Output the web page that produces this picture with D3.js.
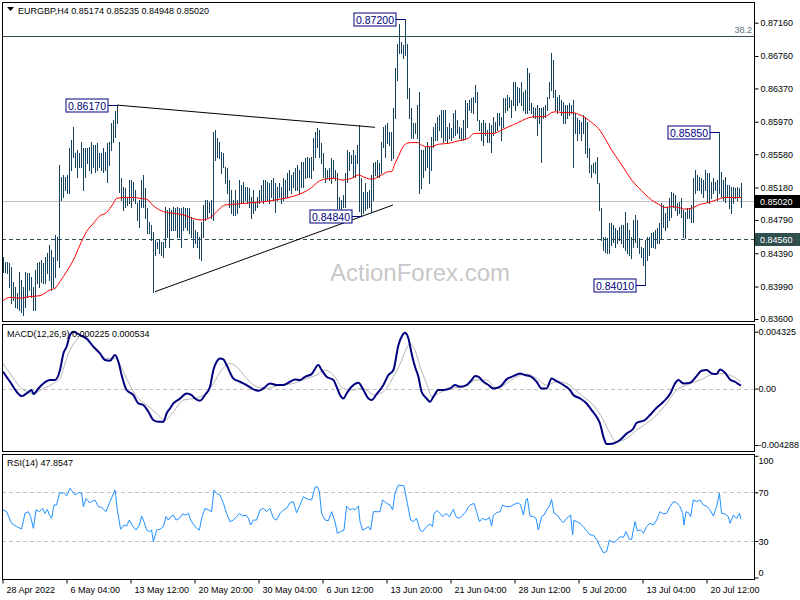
<!DOCTYPE html>
<html><head><meta charset="utf-8">
<script src="https://cdn.jsdelivr.net/npm/d3@7"></script>
<style>body{margin:0;background:#fff}svg{display:block}text{font-family:"Liberation Sans",Arial,sans-serif}</style>
</head><body><svg id="c" width="800" height="600"></svg>
<script>
// ---------- DATA ----------
const symbolTitle = "EURGBP,H4";
const titleOHLC = [0.85174, 0.85235, 0.84948, 0.85020];
const highs = [
.8435,.8429,.8429,.8427,.8423,.8405,.8399,.8391,.8417,.8407,
.8399,.8417,.8415,.8415,.8411,.8399,.8419,.8427,.8429,.8431,
.8427,.8435,.8439,.8449,.8443,.8435,.8461,.8459,.8545,.8531,
.8533,.8531,.8533,.8565,.8575,.8591,.8559,.8563,.8559,.8573,
.8565,.8565,.8565,.8567,.8573,.8569,.8569,.8571,.8559,.8559,
.8565,.8561,.8571,.8573,.8595,.8599,.8610,.8617,.8573,.8529,
.8519,.8517,.8507,.8527,.8527,.8525,.8515,.8499,.8503,.8527,
.8533,.8517,.8493,.8477,.8473,.8465,.8455,.8453,.8455,.8453,
.8453,.8495,.8491,.8493,.8491,.8495,.8493,.8495,.8493,.8493,
.8495,.8493,.8493,.8493,.8483,.8479,.8467,.8465,.8459,.8477,
.8497,.8503,.8503,.8501,.8503,.8585,.8587,.8577,.8573,.8561,
.8559,.8543,.8541,.8527,.8515,.8503,.8515,.8503,.8527,.8521,
.8525,.8519,.8519,.8517,.8507,.8515,.8501,.8507,.8515,.8521,
.8527,.8527,.8525,.8523,.8527,.8529,.8523,.8519,.8523,.8519,
.8529,.8527,.8535,.8539,.8533,.8537,.8541,.8545,.8539,.8549,
.8549,.8553,.8555,.8553,.8555,.8577,.8585,.8589,.8587,.8571,
.8559,.8541,.8539,.8541,.8553,.8551,.8539,.8535,.8507,.8503,
.8509,.8535,.8563,.8561,.8557,.8563,.8557,.8569,.8593,.8529,
.8513,.8523,.8513,.8515,.8533,.8547,.8549,.8551,.8547,.8573,
.8591,.8593,.8595,.8585,.8585,.8613,.8661,.8691,.8715,.8693,
.8689,.8720,.8691,.8637,.8613,.8595,.8595,.8617,.8633,.8563,
.8563,.8567,.8573,.8567,.8579,.8591,.8595,.8603,.8605,.8611,
.8611,.8611,.8591,.8595,.8589,.8607,.8611,.8599,.8591,.8589,
.8599,.8623,.8619,.8623,.8625,.8627,.8641,.8633,.8599,.8595,
.8599,.8595,.8587,.8595,.8593,.8603,.8597,.8607,.8607,.8603,
.8625,.8625,.8629,.8627,.8623,.8645,.8645,.8639,.8637,.8645,
.8633,.8635,.8661,.8655,.8619,.8615,.8613,.8617,.8613,.8613,
.8615,.8617,.8627,.8645,.8679,.8671,.8635,.8627,.8629,.8623,
.8621,.8617,.8617,.8619,.8617,.8623,.8607,.8601,.8599,.8597,
.8605,.8603,.8597,.8565,.8545,.8547,.8549,.8555,.8523,.8493,
.8459,.8459,.8457,.8475,.8475,.8473,.8469,.8467,.8471,.8473,
.8473,.8489,.8475,.8467,.8459,.8479,.8485,.8479,.8457,.8447,
.8445,.8455,.8459,.8459,.8463,.8465,.8467,.8469,.8475,.8499,
.8497,.8487,.8495,.8505,.8513,.8511,.8509,.8499,.8501,.8505,
.8491,.8489,.8493,.8493,.8497,.8529,.8539,.8533,.8531,.8529,
.8527,.8539,.8535,.8535,.8525,.8529,.8525,.8527,.8585,.8537,
.8527,.8531,.8521,.8521,.8519,.8519,.8517,.8519,.8517,.85235];
const lows = [
.8417,.8417,.8415,.8399,.8379,.8383,.8375,.8373,.8371,.8369,
.8365,.8375,.8387,.8395,.8387,.8371,.8371,.8403,.8399,.8405,
.8403,.8403,.8415,.8407,.8395,.8399,.8411,.8431,.8423,.8503,
.8507,.8515,.8511,.8511,.8539,.8555,.8543,.8531,.8543,.8543,
.8515,.8531,.8547,.8539,.8535,.8543,.8537,.8539,.8543,.8539,
.8537,.8539,.8525,.8545,.8563,.8573,.8579,.8595,.8513,.8503,
.8491,.8495,.8497,.8499,.8495,.8503,.8499,.8479,.8471,.8495,
.8495,.8481,.8463,.8463,.8455,.8393,.8437,.8445,.8439,.8437,
.8435,.8447,.8459,.8447,.8467,.8467,.8467,.8459,.8459,.8447,
.8467,.8471,.8467,.8463,.8459,.8447,.8451,.8447,.8433,.8431,
.8459,.8479,.8483,.8489,.8481,.8479,.8551,.8555,.8553,.8535,
.8543,.8523,.8511,.8495,.8487,.8485,.8485,.8487,.8495,.8499,
.8499,.8503,.8499,.8495,.8481,.8487,.8491,.8495,.8499,.8503,
.8499,.8503,.8503,.8499,.8507,.8503,.8489,.8503,.8507,.8499,
.8503,.8507,.8507,.8515,.8511,.8519,.8515,.8515,.8511,.8519,
.8519,.8529,.8531,.8531,.8529,.8539,.8555,.8567,.8555,.8547,
.8531,.8525,.8529,.8527,.8523,.8531,.8527,.8493,.8493,.8491,
.8495,.8495,.8525,.8539,.8547,.8531,.8531,.8547,.8490,.8484,
.8487,.8491,.8493,.8495,.8489,.8503,.8533,.8531,.8531,.8535,
.8567,.8555,.8571,.8569,.8551,.8553,.8601,.8647,.8679,.8679,
.8673,.8677,.8625,.8601,.8577,.8577,.8583,.8577,.8511,.8517,
.8531,.8539,.8543,.8523,.8539,.8567,.8575,.8575,.8587,.8579,
.8573,.8575,.8573,.8577,.8575,.8579,.8581,.8583,.8577,.8575,
.8575,.8577,.8591,.8611,.8609,.8607,.8621,.8599,.8587,.8575,
.8569,.8581,.8573,.8573,.8561,.8581,.8585,.8587,.8593,.8575,
.8591,.8609,.8611,.8615,.8603,.8617,.8611,.8617,.8621,.8617,
.8611,.8607,.8607,.8611,.8607,.8603,.8601,.8581,.8595,.8549,
.8601,.8603,.8611,.8625,.8635,.8627,.8611,.8607,.8611,.8605,
.8595,.8595,.8601,.8605,.8607,.8543,.8583,.8575,.8583,.8575,
.8583,.8560,.8555,.8537,.8531,.8537,.8535,.8523,.8491,.8455,
.8443,.8441,.8439,.8439,.8449,.8453,.8447,.8451,.8455,.8451,
.8447,.8443,.8439,.8437,.8433,.8447,.8453,.8447,.8439,.8435,
.8425,.8401,.8431,.8437,.8447,.8447,.8445,.8451,.8451,.8457,
.8471,.8467,.8471,.8479,.8483,.8495,.8491,.8485,.8487,.8483,
.8459,.8457,.8481,.8481,.8477,.8477,.8511,.8515,.8515,.8511,
.8507,.8515,.8501,.8499,.8505,.8511,.8515,.8503,.8511,.8507,
.8503,.8501,.8507,.8493,.8487,.8499,.8505,.8503,.8507,.84948];
// moving average (bar index, value)
const maPoints = [[0,.8382],[3.5,.8386],[8.5,.8385],[13.5,.8387],[18.5,.8388],[23.5,.8395],[26,.8397],[28.5,.8405],[31.8,.8417],[35.2,.8431],
[38.5,.8449],[41.8,.8465],[45.2,.8475],[48.5,.8484],[51.8,.8488],[55.2,.8499],[56.8,.8505],[61.8,.8506],[65.2,.8506],[68.5,.8505],
[71.8,.8504],[75.2,.8496],[80.2,.8489],[85.2,.8487],[90.2,.8485],[96,.8480],[99.3,.8479],[104.3,.8483],[107.7,.8491],[111,.8497],
[116,.8498],[121,.8499],[126,.8500],[131,.8501],[136,.8503],[141,.8505],[146,.8508],[151,.8513],[154.3,.8518],[157.7,.8525],
[161,.8528],[166,.8529],[169.3,.8527],[174.3,.8529],[177.7,.8533],[181,.8530],[184.3,.8528],[189.3,.8533],[192.7,.8537],[194.3,.8537],
[196,.8547],[197.7,.8555],[199.3,.8564],[201.8,.8571],[204.3,.8572],[207.3,.8572],[209.3,.8569],[211.8,.8567],[214.3,.8567],[217.7,.8570],
[222.7,.8571],[226,.8573],[229.3,.8575],[232.7,.8577],[234.3,.8581],[236,.8583],[241,.8583],[245.2,.8583],[249.3,.8587],[252.7,.8591],
[257.7,.8596],[261.8,.8601],[266,.8603],[269.3,.8603],[271.8,.8604],[274.3,.8608],[276.8,.8609],[279.3,.8608],[284.3,.8608],[287.7,.8606],
[291,.8602],[294.3,.8596],[297.7,.8589],[301,.8577],[304.3,.8563],[307.7,.8551],[311,.8539],[314.3,.8527],[317.7,.8518],[321,.8510],
[324.3,.8503],[327.7,.8498],[331,.8494],[334.3,.8495],[337.7,.8494],[341,.8492],[344.3,.8493],[347.7,.8497],[351,.8499],[354.3,.8501],
[357.7,.8504],[361,.8506],[364.3,.8506],[369,.8506]];
const macdPoints = [[0,.00128],[3.5,.00052],[6.8,-.00024],[9.3,-.00057],[11.8,-.00037],[14.3,-.00011],[15.2,-.00042],[17.7,.00001],[20.2,.00039],[23.5,.00065],
[26,.00065],[28.5,.00141],[30.2,.00267],[31.8,.00318],[33.5,.00407],[35.2,.00432],[38.5,.00407],[41.8,.00381],[45.2,.00318],[48.5,.00267],
[51,.00217],[53.5,.00212],[56,.00255],[57.7,.00204],[59.3,.00103],[61.8,-.00011],[65.2,-.00049],[67.7,-.00113],[70.2,-.00125],[72.7,-.00176],
[75.2,-.00239],[77.7,-.00252],[80.2,-.00252],[81.8,-.00189],[83.5,-.00151],[85.2,-.00113],[88.5,-.00076],[91.8,-.00037],[94.3,-.00049],[96,-.00076],
[98.5,-.00092],[101,-.00049],[103.5,.00014],[105.2,.00141],[106.8,.00204],[108.5,.00229],[110.2,.00222],[111.8,.00179],[115.2,.00077],[118.5,.00052],
[121.8,.00027],[125.2,-.00006],[127.7,-.00016],[130.2,.00001],[133.5,.00039],[136.8,.00027],[140.2,.00027],[143.5,.00052],[146,.00070],[148.5,.00065],
[151,.00090],[154.3,.00110],[157.7,.00179],[159.3,.00141],[161.8,.00090],[165.2,.00065],[166.8,.00014],[168.5,-.00049],[170.2,-.00076],[171.8,-.00037],
[174.3,.00014],[177.7,.00044],[180.2,-.00011],[182.7,-.00076],[184.3,-.00087],[186.8,-.00042],[190.2,.00027],[192.7,.00103],[195.2,.00141],[197.7,.00330],
[199.5,.00400],[201,.00424],[202.7,.00381],[204.3,.00267],[206,.00166],[207.7,.00090],[209.3,-.00024],[211.8,-.00075],[213.5,-.00100],[215.2,-.00062],
[217.7,-.00011],[220.2,-.00011],[223.5,.00001],[226,.00027],[228.5,.00014],[231.8,.00027],[234.3,.00065],[236,.00095],[237.7,.00090],[240.2,.00052],
[242.7,.00027],[245.2,.00001],[248.5,.00014],[251.8,.00070],[255.2,.00095],[258.5,.00115],[261,.00103],[263.5,.00095],[266.8,.00052],[269.3,.00001],
[271.8,.00001],[274.3,.00077],[276.8,.00057],[280.2,.00027],[283.5,-.00011],[285.2,-.00049],[288.5,-.00075],[291.8,-.00113],[294.3,-.00163],[296.8,-.00214],
[298.5,-.00265],[300.2,-.00366],[301.8,-.00422],[305.2,-.00417],[308.5,-.00391],[311.8,-.00341],[315.2,-.00303],[316.8,-.00260],[321,-.00239],[323.5,-.00201],
[326,-.00158],[330.2,-.00100],[333.5,-.00042],[336,.00039],[337.7,.00065],[340.2,.00039],[343.5,.00044],[346.8,.00095],[349.3,.00136],[351.8,.00141],
[354.3,.00115],[356.8,.00110],[358.5,.00146],[361,.00120],[363.5,.00070],[366,.00052],[368,.00032],[369,.000225]];
const signalPoints = [[0,.00191],[3.5,.00115],[8.5,.00014],[11.8,-.00024],[15.2,-.00037],[20.2,.00001],[25.2,.00039],[28.5,.00077],[31,.00191],[33.5,.00293],
[36.8,.00369],[38.5,.00400],[41.8,.00369],[46.8,.00293],[51.8,.00229],[56,.00229],[58.5,.00179],[61.8,.00077],[66.8,-.00062],[71.8,-.00125],
[76.8,-.00189],[81,-.00239],[85.2,-.00176],[90.2,-.00087],[95.2,-.00076],[100.2,-.00049],[105.2,.00039],[109.3,.00141],[113.5,.00191],[116.8,.00166],
[121.8,.00077],[126.8,.00014],[131.8,.00001],[138.5,.00027],[145.2,.00039],[151.8,.00077],[156.8,.00103],[161,.00141],[165.2,.00103],[170.2,.00001],
[175.2,-.00011],[178.5,.00001],[181.8,-.00011],[185.2,-.00049],[190.2,-.00024],[195.2,.00090],[198.5,.00185],[201,.00280],[203.5,.00343],[206,.00293],
[208.5,.00166],[211.8,.00039],[214.3,-.00062],[217.7,-.00037],[223.5,.00001],[230.2,.00014],[236.8,.00065],[241.8,.00065],[246.8,.00001],[251.8,.00039],
[256.8,.00090],[261.8,.00110],[266.8,.00077],[271.8,.00027],[276.8,.00052],[281.8,.00039],[285.2,.00001],[290.2,-.00062],[295.2,-.00125],[300.2,-.00239],
[303.5,-.00341],[306.8,-.00404],[311.8,-.00379],[316.8,-.00315],[321.8,-.00265],[326.8,-.00201],[331.8,-.00113],[336.8,-.00011],[341.8,.00027],[348.5,.00065],
[355.2,.00110],[360.2,.00115],[365.2,.00090],[369,.000534]];
const rsiPoints = [[0,55.5],[1.8,54.1],[4.3,44.5],[6.8,41.8],[9.3,39.9],[11,52.7],[12.7,54.1],[13.8,50.0],[15.2,40.4],[16.5,55.5],
[18.2,54.1],[19.8,56.8],[21,52.7],[22.2,56.0],[23.2,51.3],[24.3,48.6],[25.5,59.6],[26.8,59.6],[28.2,69.2],[30.2,69.7],
[31.8,67.0],[33.5,73.3],[34.8,70.5],[36,67.8],[37.7,69.7],[39.3,69.2],[40.2,58.2],[41.5,65.0],[43.2,61.5],[44.3,62.3],
[46,63.7],[47.7,58.2],[49.3,57.6],[51.5,54.1],[53.5,62.3],[56,71.9],[57.2,55.5],[58.8,39.6],[60.5,43.1],[61.8,42.3],
[63.2,47.2],[64.5,43.1],[66.5,39.0],[68.2,43.1],[69.3,50.5],[70.5,45.9],[71.8,39.0],[73.2,37.7],[74.3,39.0],[75.2,29.4],
[76.8,39.0],[78.5,39.6],[80.2,41.8],[81.5,50.0],[82.7,47.2],[83.8,50.0],[85.2,51.3],[86.5,47.2],[88.2,48.6],[89.8,52.2],
[91.5,51.3],[92.7,52.7],[93.8,47.2],[95.5,43.1],[96.8,40.4],[98.2,39.0],[99.3,48.6],[101,56.8],[102.7,55.5],[104.3,54.1],
[105.5,71.9],[106.8,69.2],[108.5,67.8],[110.2,61.0],[111.8,52.7],[113.5,45.9],[115.2,47.2],[116.8,50.0],[118.2,52.7],[119.8,50.5],
[121.5,51.3],[122.7,48.6],[123.8,43.1],[125.2,47.2],[126.8,47.2],[128.5,55.5],[130.2,56.8],[131.8,54.1],[133.5,56.8],[135.2,48.6],
[136.8,47.2],[138.5,52.7],[140.2,55.5],[141.8,56.8],[143.5,61.5],[145.2,62.3],[146.8,53.2],[148.5,59.6],[150.2,66.4],[151.5,65.0],
[152.7,64.2],[154.3,63.7],[156,74.1],[157.2,74.6],[158.2,70.5],[159.3,52.7],[161,47.2],[162.7,46.7],[164.3,54.1],[166,45.9],
[167.2,36.3],[168.8,37.7],[170.5,39.0],[171.8,58.7],[173.5,55.5],[174.8,56.8],[176,55.5],[177.7,58.7],[178.5,45.9],[179.8,39.0],
[181.5,40.4],[182.7,41.8],[183.8,39.0],[185.2,54.1],[187.2,54.1],[188.5,54.1],[189.8,63.7],[191.8,60.9],[193.5,59.6],[194.8,55.5],
[196,69.2],[197.7,76.0],[200.5,75.2],[202.2,60.9],[203.8,47.2],[205.2,45.9],[206.8,48.6],[208.5,39.0],[209.8,37.7],[211.8,41.8],
[213.5,44.0],[214.8,41.8],[215.5,52.7],[217.2,54.9],[218.5,52.7],[219.8,50.0],[221.5,52.7],[223.2,50.0],[225.2,56.0],[226.5,50.0],
[228.2,48.6],[229.8,51.3],[231.5,54.1],[232.7,58.2],[233.8,59.6],[235.5,60.9],[236.8,54.1],[238.2,45.9],[239.8,48.6],[241.5,47.2],
[243.2,49.4],[244.3,42.3],[245.2,51.3],[246.8,53.2],[248.5,54.1],[249.8,59.6],[251.5,58.2],[253.5,58.2],[256,60.4],[257.7,61.5],
[258.8,59.6],[260.2,51.3],[261.5,63.7],[262.2,65.0],[263.5,50.5],[265.2,50.0],[266.5,48.6],[267.7,39.0],[269.3,50.0],[270.5,51.3],
[271.8,55.5],[273.2,58.7],[274.3,64.2],[275.5,52.7],[277.2,51.3],[278.8,47.2],[280.2,45.0],[281.8,48.6],[283.8,51.3],[284.8,34.9],
[285.5,47.2],[286.8,45.9],[288.5,44.5],[290.2,41.8],[291.5,39.0],[293.5,34.9],[295.2,34.9],[296.8,31.4],[298.5,25.3],[300.2,20.4],
[301.8,21.2],[303.2,30.8],[305.2,28.6],[306.8,30.3],[308.5,33.5],[310.2,33.0],[311.5,37.7],[313.2,31.4],[314.3,31.4],[316,45.9],
[317.2,38.5],[318.8,39.0],[320.2,36.3],[321.8,41.8],[323.5,44.5],[325.2,43.1],[326.8,47.2],[328.5,54.1],[330.2,52.2],[331.8,52.7],
[333.5,58.2],[335.2,62.3],[336.8,61.5],[338.5,58.2],[339.8,53.2],[340.5,43.1],[341.5,54.1],[342.7,53.2],[343.8,50.0],[345.2,63.7],
[346.8,62.3],[348.5,63.7],[350.2,59.6],[351.8,58.7],[353.5,55.5],[355.2,50.5],[356.8,58.2],[358.2,69.2],[359.3,52.7],[361,52.2],
[362.7,50.0],[363.5,44.5],[365.2,51.3],[366.8,48.6],[368.2,52.7],[369,47.8547]];
const priceTicks = [0.8716,0.8676,0.8637,0.8597,0.8558,0.8518,0.8479,0.8439,0.8399,0.8360];
const macdTicks = [0.004325, 0, -0.004288];
const macdTickLabels = ["0.004325","0.00","-0.004288"];
const rsiTicks = [100,70,30,0];
const rsiLevels = [70,30];
const timeLabels = ["28 Apr 2022","6 May 04:00","13 May 12:00","20 May 20:00","30 May 04:00","6 Jun 12:00","13 Jun 20:00","21 Jun 04:00","28 Jun 12:00","5 Jul 20:00","13 Jul 04:00","20 Jul 12:00"];
const timeLabelBars = [0,32,64,96,128,160,192,224,256,288,320,352];
const annotValues = [0.86170,0.87200,0.84840,0.84010,0.85850];
const annotBars = [57,201,179,321,358];
const trendUpper = [[57,0.86170],[186,0.85903]];
const trendLower = [[76,0.83928],[195,0.84970]];
const currentPrice = 0.85020, supportLevel = 0.84560, fibLevel = 0.87000, fibText = "38.2";
const macdLast = [0.000225, 0.000534], rsiLast = 47.8547;

// ---------- DRAW ----------
const svg = d3.select("#c");
const L = 2, R = 754;
const P = {main:[2,321], macd:[324,451], rsi:[454,579]};
const x = d3.scaleLinear().domain([0, highs.length-1]).range([3, 741]);
const yP = d3.scaleLinear().domain([0.8360, 0.8716]).range([319, 22.7]);
const yM = d3.scaleLinear().domain([-0.004288, 0.004325]).range([445, 331.7]);
const yR = d3.scaleLinear().domain([0, 100]).range([577.5, 455.8]);
const fmt5 = d3.format(".5f");
const barColor = "#17435f";
const defs = svg.append("defs");
Object.entries(P).forEach(([k,[t,b]]) => {
  defs.append("clipPath").attr("id","clip-"+k).append("rect").attr("x",L+1).attr("y",t+1).attr("width",R-L-1).attr("height",b-t-1);
});
const px = v => Math.round(v) + 0.5;

// main panel
const gm = svg.append("g").attr("clip-path","url(#clip-main)");
gm.append("text").attr("x",420).attr("y",281).attr("text-anchor","middle").attr("font-size",24).attr("fill","#c8c8c8").text("ActionForex.com");
gm.append("line").attr("x1",L).attr("x2",R).attr("y1",px(yP(currentPrice))).attr("y2",px(yP(currentPrice))).attr("stroke","#c0c0c0");
gm.append("line").attr("x1",L).attr("x2",R).attr("y1",px(yP(supportLevel))).attr("y2",px(yP(supportLevel))).attr("stroke","#2f4f4f").attr("stroke-dasharray","4,3");
gm.append("line").attr("x1",L).attr("x2",R).attr("y1",px(yP(fibLevel))).attr("y2",px(yP(fibLevel))).attr("stroke","#2f4f4f");
gm.append("text").attr("x",752).attr("y",yP(fibLevel)-3).attr("text-anchor","end").attr("font-size",9).attr("fill","#5c6f7f").text(fibText);
gm.selectAll("line.bar").data(highs.map((h,i)=>({i,h,l:lows[i]}))).join("line").attr("class","bar")
  .attr("x1",d=>px(x(d.i))).attr("x2",d=>px(x(d.i)))
  .attr("y1",d=>Math.round(yP(d.h))).attr("y2",d=>Math.round(yP(d.l))+1)
  .attr("stroke",barColor).attr("stroke-width",1).attr("shape-rendering","crispEdges");
gm.append("path").datum(maPoints).attr("fill","none").attr("stroke","#ff0000").attr("stroke-width",1)
  .attr("d",d3.line().x(d=>x(d[0])).y(d=>yP(d[1])).curve(d3.curveMonotoneX));
[trendUpper,trendLower].forEach(t=>{
  gm.append("line").attr("x1",x(t[0][0])).attr("y1",yP(t[0][1])).attr("x2",x(t[1][0])).attr("y2",yP(t[1][1])).attr("stroke","#000").attr("stroke-width",1);
});
annotValues.forEach((v,k)=>{
  const bx = px(x(annotBars[k])), by = px(yP(v));
  const w = 42, h = 13, right = bx - 10;
  gm.append("line").attr("x1",right).attr("x2",bx).attr("y1",by).attr("y2",by).attr("stroke","#000080");
  gm.append("rect").attr("x",right-w+0.5).attr("y",by-6.5).attr("width",w).attr("height",h).attr("fill","#fff").attr("stroke","#000080");
  gm.append("text").attr("x",right-w/2+0.5).attr("y",by+4).attr("text-anchor","middle").attr("font-size",10.5).attr("fill","#000080").text(fmt5(v));
});
// title
svg.append("path").attr("d","M7,7L14,7L10.5,11Z").attr("fill","#000");
svg.append("text").attr("x",18).attr("y",14).attr("font-size",9).attr("fill","#000")
  .text(symbolTitle + "  " + titleOHLC.map(fmt5).join(" "));

// MACD panel
const gd = svg.append("g").attr("clip-path","url(#clip-macd)");
gd.append("line").attr("x1",L).attr("x2",R).attr("y1",px(yM(0))).attr("y2",px(yM(0))).attr("stroke","#c0c0c0").attr("stroke-dasharray","4,3");
gd.append("path").datum(signalPoints).attr("fill","none").attr("stroke","#b4b4b4").attr("stroke-width",1)
  .attr("d",d3.line().x(d=>x(d[0])).y(d=>yM(d[1])).curve(d3.curveMonotoneX));
gd.append("path").datum(macdPoints).attr("fill","none").attr("stroke","#000080").attr("stroke-width",2)
  .attr("d",d3.line().x(d=>x(d[0])).y(d=>yM(d[1])).curve(d3.curveMonotoneX));
svg.append("text").attr("x",7).attr("y",337).attr("font-size",9).attr("fill","#000")
  .text("MACD(12,26,9) " + macdLast[0].toFixed(6) + " " + macdLast[1].toFixed(6));

// RSI panel
const gr = svg.append("g").attr("clip-path","url(#clip-rsi)");
rsiLevels.forEach(v=>gr.append("line").attr("x1",L).attr("x2",R).attr("y1",px(yR(v))).attr("y2",px(yR(v))).attr("stroke","#c0c0c0").attr("stroke-dasharray","4,3"));
gr.append("path").datum(rsiPoints).attr("fill","none").attr("stroke","#1e90ff").attr("stroke-width",1)
  .attr("d",d3.line().x(d=>x(d[0])).y(d=>yR(d[1])));
svg.append("text").attr("x",7).attr("y",466).attr("font-size",9).attr("fill","#000").text("RSI(14) " + rsiLast);

// frames
Object.values(P).forEach(([t,b])=>{
  svg.append("rect").attr("x",L+0.5).attr("y",t+0.5).attr("width",R-L).attr("height",b-t).attr("fill","none").attr("stroke","#000");
});

// axes
function styleAxis(g){ g.select(".domain").remove(); g.selectAll("text").attr("font-size",9).attr("fill","#000").attr("font-family","Liberation Sans, Arial, sans-serif"); g.selectAll("line").attr("stroke","#000"); }
svg.append("g").attr("transform",`translate(${R+0.5},0)`)
  .call(d3.axisRight(yP).tickValues(priceTicks).tickSize(4).tickPadding(2).tickFormat(fmt5)).call(styleAxis);
svg.append("g").attr("transform",`translate(${R+0.5},0)`)
  .call(d3.axisRight(yM).tickValues(macdTicks).tickSize(4).tickPadding(0).tickFormat((d,i)=>macdTickLabels[i])).call(styleAxis);
const ra = svg.append("g").attr("transform",`translate(${R+0.5},0)`)
  .call(d3.axisRight(yR).tickValues(rsiTicks).tickSize(4).tickPadding(0)).call(styleAxis);
ra.selectAll(".tick text").attr("dy",null).attr("y",d=>Math.max(460,Math.min(572,yR(d)))-yR(d)+3.5);
const ta = svg.append("g").attr("transform",`translate(0,${P.rsi[1]+0.5})`)
  .call(d3.axisBottom(x).tickValues(timeLabelBars).tickSize(4).tickFormat((d,i)=>timeLabels[i])).call(styleAxis);
ta.selectAll(".tick text").attr("text-anchor","start").attr("x",3).attr("dy",null).attr("y",13);
ta.selectAll(".tick line").attr("transform","translate(-0.5,0)");

// price boxes on axis
[[currentPrice,"#000"],[supportLevel,"#2f4f4f"]].forEach(([v,c])=>{
  const yy = Math.round(yP(v));
  svg.append("rect").attr("x",R+1).attr("y",yy-6).attr("width",46).attr("height",13).attr("fill",c);
  svg.append("text").attr("x",R+6).attr("y",yy+4).attr("font-size",9).attr("fill","#fff").text(fmt5(v));
});
</script></body></html>
